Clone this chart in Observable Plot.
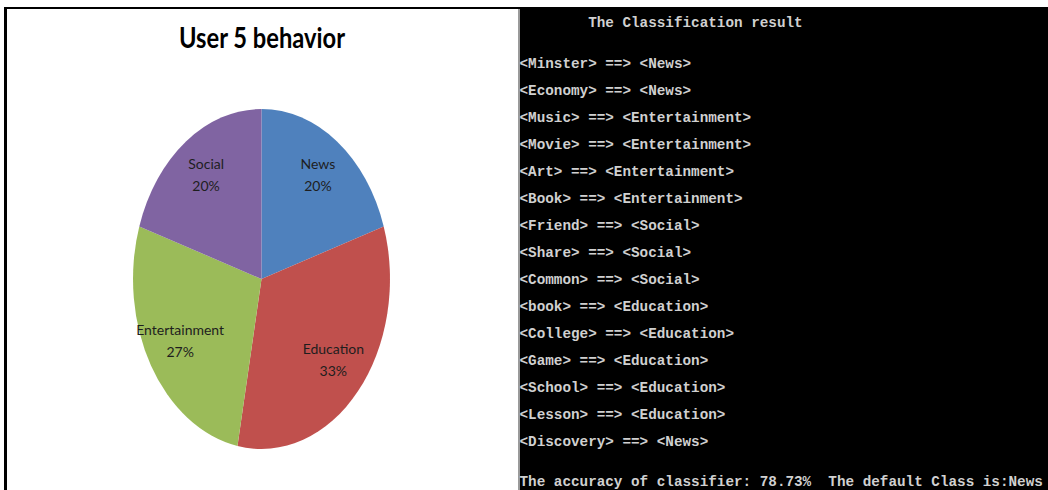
<!DOCTYPE html>
<html>
<head>
<meta charset="utf-8">
<script src="https://cdn.jsdelivr.net/npm/d3@7"></script>
<script src="https://cdn.jsdelivr.net/npm/@observablehq/plot@0.6"></script>
<style>
  html, body { margin: 0; padding: 0; background: #fff; }
  #wrap { position: relative; width: 1048px; height: 490px; overflow: hidden; background: #fff; }
  .abs { position: absolute; }
  #pie svg, #con svg { display: block; }
  #con svg { white-space: pre; }
</style>
</head>
<body>
<div id="wrap">
  <div class="abs" style="left:4px;top:7px;width:3px;height:483px;background:#000"></div>
  <div class="abs" style="left:4px;top:7px;width:516px;height:2px;background:#000"></div>
  <div id="pie" class="abs" style="left:7px;top:9px;width:511px;height:481px"></div>
  <div class="abs" style="left:518px;top:9px;width:2px;height:481px;background:#9a9a9a"></div>
  <div id="con" class="abs" style="left:520px;top:7px;width:528px;height:483px;background:#000"></div>
</div>
<script>
// ---- Pie chart data ----
const chartTitle = "User 5 behavior";
const categories = ["News", "Education", "Entertainment", "Social"];
const shares = [20, 33, 27, 20];
const sliceColors = ["#4F81BD", "#C0504D", "#9BBB59", "#8064A2"];

// ---- Console data ----
const consoleTitle = "        The Classification result";
const keywords = ["Minster", "Economy", "Music", "Movie", "Art", "Book", "Friend", "Share", "Common", "book", "College", "Game", "School", "Lesson", "Discovery"];
const classes = ["News", "News", "Entertainment", "Entertainment", "Entertainment", "Entertainment", "Social", "Social", "Social", "Education", "Education", "Education", "Education", "Education", "News"];
const accuracy = "78.73%";
const defaultClass = "News";

// ---- Pie ----
const total = d3.sum(shares);
const pieData = categories.map((c, i) => ({category: c, value: shares[i], color: sliceColors[i]}));
const arcs = d3.pie().sort(null).value(d => d.value)(pieData);
const labelR = 0.74;
const labels = arcs.map(a => {
  const mid = (a.startAngle + a.endAngle) / 2;
  return {
    x: labelR * Math.sin(mid),
    y: labelR * Math.cos(mid),
    text: `${a.data.category}\n${Math.round(a.data.value / total * 100)}%`
  };
});

const pieMark = (index, scales) => {
  const cx = scales.x(0), cy = scales.y(0);
  const rx = scales.x(1) - cx, ry = scales.y(-1) - cy;
  const g = d3.create("svg:g").attr("transform", `translate(${cx},${cy}) scale(${rx},${ry})`);
  const arc = d3.arc().innerRadius(0).outerRadius(1);
  g.selectAll("path").data(arcs).join("path")
    .attr("d", arc)
    .attr("fill", d => d.data.color)
    .attr("stroke", "none");
  return g.node();
};

const piePlot = Plot.plot({
  width: 511,
  height: 481,
  margin: 0,
  style: {background: "#fff", overflow: "visible"},
  x: {domain: [-1, 1], range: [126, 383], axis: null},
  y: {domain: [-1, 1], range: [440, 100], axis: null},
  marks: [
    pieMark,
    Plot.text(labels, {
      x: "x", y: "y", text: "text", dy: -5,
      fontFamily: "Lato, 'Liberation Sans', sans-serif",
      fontSize: 14, lineHeight: 1.6, fill: "#1e1e1e"
    }),
    Plot.text([chartTitle], {
      x: 0, frameAnchor: "top", lineAnchor: "top", dy: 19,
      fontFamily: "Lato, 'Liberation Sans', sans-serif",
      fontSize: 28, fontWeight: "bold", fill: "#000"
    })
  ]
});
// condense the title to the width of the original's narrow font
piePlot.querySelectorAll("text").forEach(t => {
  if (t.textContent === chartTitle) {
    t.setAttribute("textLength", 166);
    t.setAttribute("lengthAdjust", "spacingAndGlyphs");
  }
});
document.getElementById("pie").append(piePlot);

// ---- Console ----
const consoleRows = [{row: 0, text: consoleTitle}]
  .concat(keywords.map((k, i) => ({row: 3 + 2 * i, text: `<${k}> ==> <${classes[i]}>`})))
  .concat([{row: 34, text: `The accuracy of classifier: ${accuracy}  The default Class is:${defaultClass}`}]);

const conPlot = Plot.plot({
  width: 528,
  height: 483,
  margin: 0,
  style: {background: "#000", overflow: "visible"},
  y: {domain: [0, 34], range: [15, 474], axis: null},
  marks: [
    Plot.text(consoleRows, {
      y: "row", text: "text", frameAnchor: "left", textAnchor: "start", dx: -1,
      fontFamily: "'Liberation Mono', 'DejaVu Sans Mono', monospace",
      fontSize: 14.3, fontWeight: "bold", fill: "#d0d0d0"
    })
  ]
});
document.getElementById("con").append(conPlot);
</script>
</body>
</html>
